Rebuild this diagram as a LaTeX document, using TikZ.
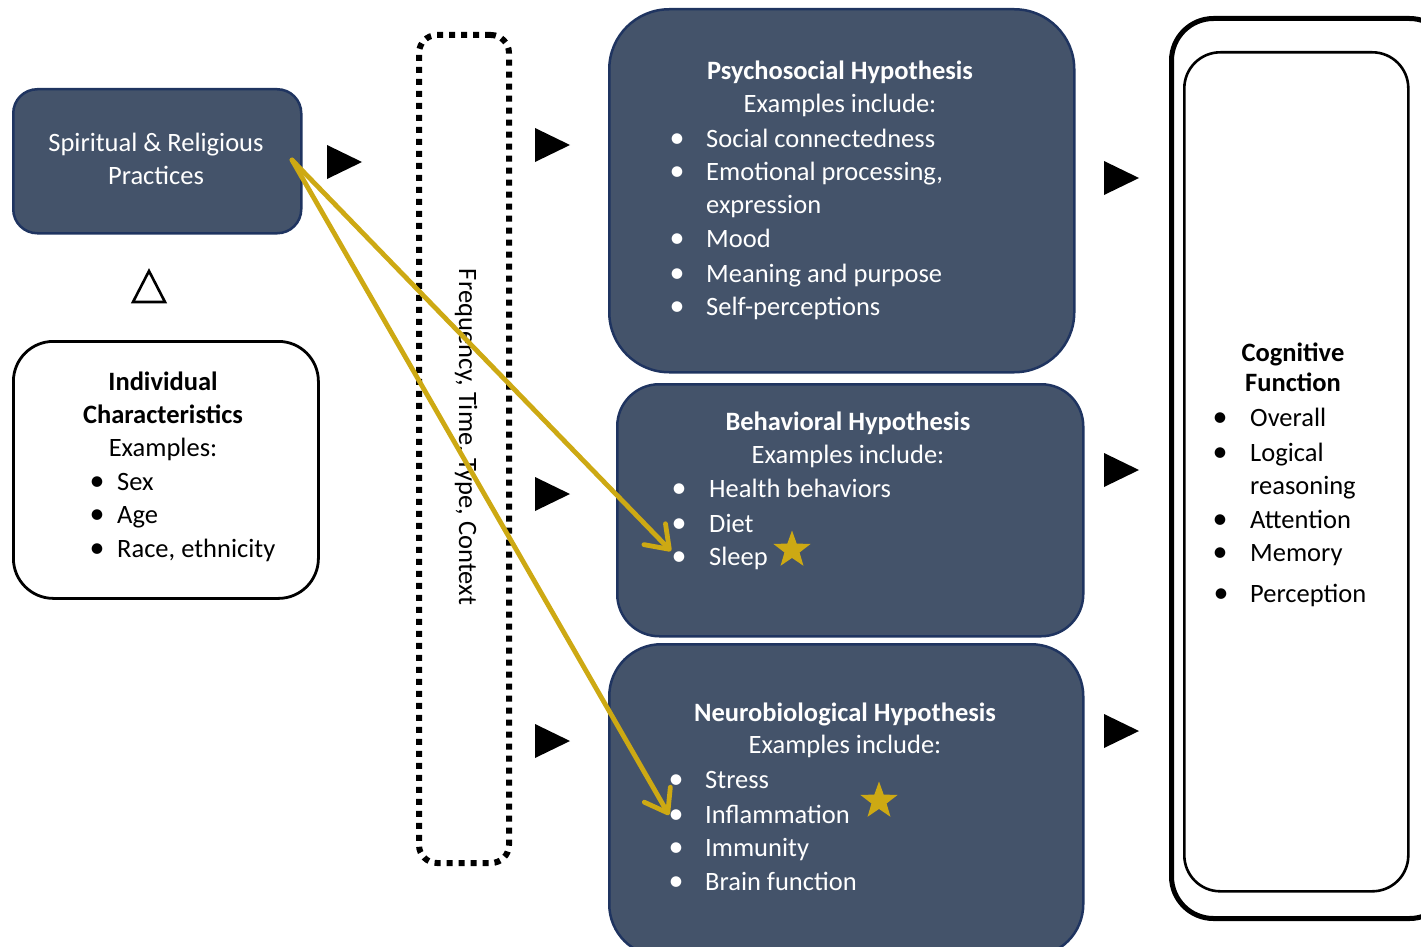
\documentclass[tikz,border=0pt]{standalone}
\usepackage{fontspec}
\setmainfont{Carlito}
\usetikzlibrary{shapes.geometric,arrows.meta}
\definecolor{boxfill}{RGB}{68,83,106}
\definecolor{boxline}{RGB}{31,52,96}
\definecolor{goldc}{RGB}{205,169,19}
\begin{document}
\begin{tikzpicture}[x=1pt,y=-1pt,
  darkbox/.style={draw=boxline,line width=2.5pt,fill=boxfill,inner sep=0pt,anchor=north west},
  whitebox/.style={draw=black,fill=white,inner sep=0pt,anchor=north west},
  tx/.style={inner sep=0pt,font=\fontsize{26.5}{32}\selectfont},
  ttl/.style={tx,anchor=base,font=\fontsize{26.5}{32}\selectfont\bfseries},
  ctr/.style={tx,anchor=base},
  item/.style={tx,anchor=base west},
  bul/.style={inner sep=0pt,anchor=base,font=\fontsize{30}{32}\selectfont},
  wt/.style={text=white},
  starc/.style={star,star points=5,star point ratio=2.45,fill=goldc,draw=none,minimum size=39pt,inner sep=0pt},
  goldarrow/.style={draw=goldc,line width=4.8pt,line cap=round,line join=round,-{Straight Barb[length=21pt,width=30pt,line cap=round,line join=round]}},
  playtri/.pic={\fill (0,-17) -- (35,0) -- (0,17) -- cycle;}
]
\useasboundingbox (0,0) rectangle (1421,947);
\clip (0,0) rectangle (1421,947);

% ---------- boxes ----------
\node[darkbox,rounded corners=24pt,minimum width=288pt,minimum height=144pt] (spir) at (12,88) {};
\node[whitebox,line width=2.8pt,rounded corners=40pt,minimum width=305pt,minimum height=257pt] (indiv) at (12,340) {};
\node[draw=black,line width=6pt,dash pattern=on 6pt off 6pt,rounded corners=18pt,inner sep=0pt,anchor=north west,minimum width=90pt,minimum height=828pt] (ftcbox) at (416,32) {};
\node[darkbox,rounded corners=60pt,minimum width=465pt,minimum height=363pt] (psy) at (608,8) {};
\node[darkbox,rounded corners=42pt,minimum width=466pt,minimum height=252pt] (beh) at (616,383) {};
\node[darkbox,rounded corners=52pt,minimum width=474pt,minimum height=312pt] (neu) at (608,643) {};
\node[whitebox,line width=5pt,rounded corners=42pt,minimum width=280pt,minimum height=900pt] (cogout) at (1169,16) {};
\node[whitebox,line width=2.6pt,rounded corners=36pt,minimum width=224pt,minimum height=839pt] (cogin) at (1183,51) {};

% ---------- delta ----------
\draw[line width=2.6pt,line join=miter] (133,302) -- (165,302) -- (149,271) -- cycle;

% ---------- black triangles ----------
\pic at (327,162) {playtri};
\pic at (535,145) {playtri};
\pic at (535,494) {playtri};
\pic at (535,741) {playtri};
\pic at (1104,178) {playtri};
\pic at (1104,470) {playtri};
\pic at (1104,731) {playtri};

% ---------- spiritual ----------
\node[ctr,wt] (sp1) at (156,152) {Spiritual \& Religious};
\node[ctr,wt] (sp2) at (156,184) {Practices};

% ---------- individual ----------
\node[ttl] (in1) at (163,390) {Individual};
\node[ttl] (in2) at (163,423) {Characteristics};
\node[ctr] (in3) at (163,456) {Examples:};
\node[bul] (inb1) at (97,490) {•};
\node[item] (ini1) at (117,490) {Sex};
\node[bul] (inb2) at (97,523) {•};
\node[item] (ini2) at (117,523) {Age};
\node[bul] (inb3) at (97,557) {•};
\node[item] (ini3) at (117,557) {Race, ethnicity};

% ---------- rotated text ----------
\node[tx,rotate=-90] (ftc) at (466,437) {Frequency, Time, Type, Context};

% ---------- psychosocial ----------
\node[ttl,wt] (ps0) at (840,80) {Psychosocial Hypothesis};
\node[ctr,wt] (psx) at (840,113) {Examples include:};
\node[bul,wt] (psb1) at (677,147) {•};
\node[item,wt] (ps1) at (706,147) {Social connectedness};
\node[bul,wt] (psb2) at (677,180) {•};
\node[item,wt] (ps2) at (706,180) {Emotional processing,};
\node[item,wt] (ps2b) at (706,213) {expression};
\node[bul,wt] (psb3) at (677,247) {•};
\node[item,wt] (ps3) at (706,247) {Mood};
\node[bul,wt] (psb4) at (677,282) {•};
\node[item,wt] (ps4) at (706,282) {Meaning and purpose};
\node[bul,wt] (psb5) at (677,315) {•};
\node[item,wt] (ps5) at (706,315) {Self-perceptions};

% ---------- behavioral ----------
\node[ttl,wt] (be0) at (848,430) {Behavioral Hypothesis};
\node[ctr,wt] (bex) at (848,463) {Examples include:};
\node[bul,wt] (beb1) at (679,497) {•};
\node[item,wt] (be1) at (709,497) {Health behaviors};
\node[bul,wt] (beb2) at (679,532) {•};
\node[item,wt] (be2) at (709,532) {Diet};
\node[bul,wt] (beb3) at (679,565) {•};
\node[item,wt] (be3) at (709,565) {Sleep};
\node[starc] (star1) at (792,550) {};

% ---------- neurobiological ----------
\node[ttl,wt] (ne0) at (845,721) {Neurobiological Hypothesis};
\node[ctr,wt] (nex) at (845,753) {Examples include:};
\node[bul,wt] (neb1) at (676,788) {•};
\node[item,wt] (ne1) at (705,788) {Stress};
\node[bul,wt] (neb2) at (676,823) {•};
\node[item,wt] (ne2) at (705,823) {Inflammation};
\node[bul,wt] (neb3) at (676,856) {•};
\node[item,wt] (ne3) at (705,856) {Immunity};
\node[bul,wt] (neb4) at (676,890) {•};
\node[item,wt] (ne4) at (705,890) {Brain function};
\node[starc] (star2) at (879,801) {};

% ---------- cognitive ----------
\node[ttl] (co1) at (1293,361) {Cognitive};
\node[ttl] (co2) at (1293,391) {Function};
\node[bul] (cob1) at (1220,426) {•};
\node[item] (coi1) at (1250,426) {Overall};
\node[bul] (cob2) at (1220,461) {•};
\node[item] (coi2) at (1250,461) {Logical};
\node[item] (coi2b) at (1250,494) {reasoning};
\node[bul] (cob3) at (1220,528) {•};
\node[item] (coi3) at (1250,528) {Attention};
\node[bul] (cob4) at (1220,561) {•};
\node[item] (coi4) at (1250,561) {Memory};
\node[bul] (cob5) at (1221,602) {•};
\node[item] (coi5) at (1250,602) {Perception};

% ---------- gold arrows ----------
\coordinate (spout) at (292,160);
\coordinate (sleepin) at (671,551);
\coordinate (inflin) at (669,815);
\draw[goldarrow] (spout) -- (sleepin);
\draw[goldarrow] (spout) -- (inflin);
\end{tikzpicture}
\end{document}
